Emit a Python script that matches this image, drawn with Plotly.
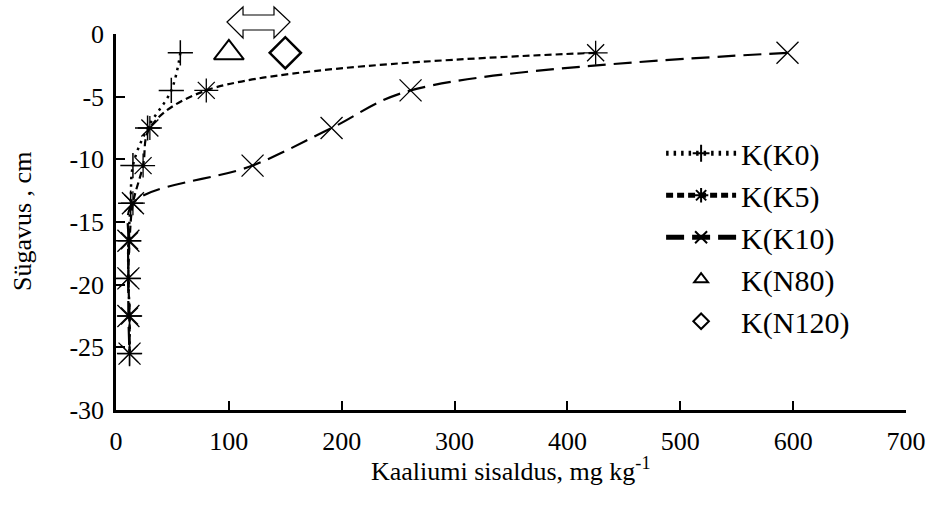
import plotly.graph_objects as go

depth = [-1.5, -4.5, -7.5, -10.5, -13.5, -16.5, -19.5, -22.5, -25.5]
k0 = [57, 49, 28, 15, 13, 11, 11, 12, 12]
k5 = [425, 80, 30, 24, 15, 12, 11, 12, 12]
k10 = [595, 261, 191, 121, 15, 11, 11, 11, 12]
n80_x, n80_y = [100], [-1.5]
n120_x, n120_y = [150], [-1.5]

x_ticks = [0, 100, 200, 300, 400, 500, 600, 700]
x_labels = ["0", "100", "200", "300", "400", "500", "600", "700"]
y_ticks = [0, -5, -10, -15, -20, -25, -30]
y_labels = ["0", "-5", "-10", "-15", "-20", "-25", "-30"]
x_title = "Kaaliumi sisaldus, mg kg<sup>-1</sup>"
y_title = "Sügavus , cm"

FONT = "Liberation Serif"
L, R, T, B = 116, 24, 34, 98
W, H = 930, 508
PW, PH = W - L - R, H - T - B


def px2paper(px, py):
    return (px - L) / PW, (H - B - py) / PH


fig = go.Figure()
fig.add_trace(go.Scatter(
    x=k0, y=depth, name="K(K0)", mode="lines+markers",
    line=dict(color="black", width=2.5, dash="2.5px,5px", shape="spline", smoothing=1),
    marker=dict(symbol="cross-thin", size=18, color="black", line=dict(color="black", width=1.5)),
))
fig.add_trace(go.Scatter(
    x=k5, y=depth, name="K(K5)", mode="lines+markers",
    line=dict(color="black", width=2.2, dash="7px,4px", shape="spline", smoothing=1),
    marker=dict(symbol="asterisk", size=20, color="black", line=dict(color="black", width=1.3)),
))
fig.add_trace(go.Scatter(
    x=k10, y=depth, name="K(K10)", mode="lines+markers",
    line=dict(color="black", width=2.2, dash="18px,8px", shape="spline", smoothing=1),
    marker=dict(symbol="x-thin", size=22, color="black", line=dict(color="black", width=1.3)),
))
fig.add_trace(go.Scatter(
    x=n80_x, y=n80_y, name="K(N80)", mode="markers",
    marker=dict(symbol="triangle-up-open", size=26, color="black", line=dict(color="black", width=2)),
))
fig.add_trace(go.Scatter(
    x=n120_x, y=n120_y, name="K(N120)", mode="markers",
    marker=dict(symbol="diamond-open", size=24, color="black", line=dict(color="black", width=2.5)),
))

# double arrow outline above the markers
arrow_px = [(227, 22), (243, 7), (243, 15), (274, 15), (274, 7), (290, 22),
            (274, 38), (274, 30), (243, 30), (243, 38)]
pts = [px2paper(a, b) for a, b in arrow_px]
path = "M " + " L ".join(f"{x:.4f},{y:.4f}" for x, y in pts) + " Z"
fig.add_shape(type="path", path=path, xref="paper", yref="paper",
              fillcolor="white", line=dict(color="black", width=1.2), layer="above")

# axis titles as annotations for precise placement
xt = px2paper(510, 469)
yt = px2paper(22, 222)
fig.add_annotation(text=x_title, xref="paper", yref="paper", x=xt[0], y=xt[1],
                   showarrow=False, xanchor="center", yanchor="middle",
                   font=dict(family=FONT, size=26, color="black"))
fig.add_annotation(text=y_title, xref="paper", yref="paper", x=yt[0], y=yt[1],
                   showarrow=False, xanchor="center", yanchor="middle", textangle=-90,
                   font=dict(family=FONT, size=26, color="black"))

fig.update_layout(
    width=W, height=H,
    margin=dict(l=L, r=R, t=T, b=B, autoexpand=False),
    paper_bgcolor="white", plot_bgcolor="white",
    font=dict(family=FONT, size=26, color="black"),
    showlegend=True,
    legend=dict(x=0.690, y=0.752, xanchor="left", yanchor="top",
                bgcolor="rgba(0,0,0,0)", itemsizing="constant", itemwidth=70,
                font=dict(family=FONT, size=30)),
    xaxis=dict(range=[0, 700], tickmode="array", tickvals=x_ticks, ticktext=x_labels,
               showgrid=False, zeroline=False, automargin=False,
               showline=True, linecolor="black", linewidth=2.5,
               ticks="inside", ticklen=9, tickwidth=2, tickcolor="black",
               ticklabelstandoff=6, tickfont=dict(size=26)),
    yaxis=dict(range=[-30, 0], tickmode="array", tickvals=y_ticks, ticktext=y_labels,
               showgrid=False, zeroline=False, automargin=False,
               showline=True, linecolor="black", linewidth=2.5,
               ticks="inside", ticklen=9, tickwidth=2, tickcolor="black",
               ticklabelstandoff=4, tickfont=dict(size=26)),
)

fig.write_html("out.html")
